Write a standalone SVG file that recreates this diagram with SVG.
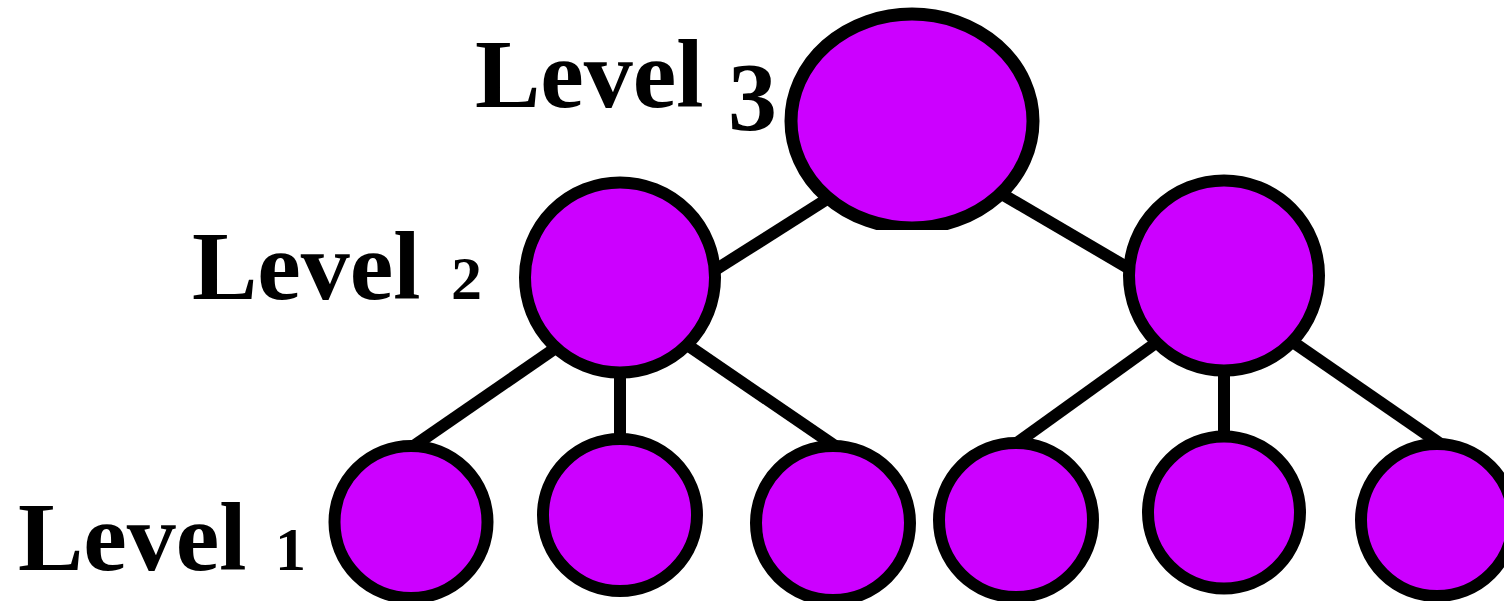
<svg xmlns="http://www.w3.org/2000/svg" width="1504" height="601" viewBox="0 0 1504 601">
  <style>
    .edge { stroke: #000; stroke-width: 12; fill: none; }
    .node { fill: #CC00FF; stroke: #000; stroke-width: 12; }
    .root { fill: #CC00FF; stroke: #000; stroke-width: 13; }
    .label { font-family: "Liberation Serif", "DejaVu Serif", serif; font-weight: bold; font-size: 98px; fill: #000; }
    .fig { font-size: 62px; }
  </style>
  <defs>
    <clipPath id="rootClip">
      <rect x="0" y="0" width="1504" height="230"/>
    </clipPath>
  </defs>
  <rect x="0" y="0" width="1504" height="601" fill="#fff"/>

  <!-- connectors -->
  <g id="connectors">
    <line class="edge" x1="835" y1="194" x2="712" y2="272"/>
    <line class="edge" x1="995" y1="190" x2="1135" y2="272"/>
    <line class="edge" x1="560" y1="345" x2="405" y2="452"/>
    <line class="edge" x1="620" y1="370" x2="620" y2="442"/>
    <line class="edge" x1="680" y1="340" x2="838" y2="448"/>
    <line class="edge" x1="1160" y1="340" x2="1010" y2="448"/>
    <line class="edge" x1="1224" y1="370" x2="1224" y2="440"/>
    <line class="edge" x1="1290" y1="340" x2="1442" y2="445"/>
  </g>

  <!-- level 3 -->
  <g id="node-root">
    <ellipse class="root" cx="912" cy="121" rx="121" ry="107" clip-path="url(#rootClip)"/>
  </g>

  <!-- level 2 -->
  <g id="node-l2-left">
    <circle class="node" cx="620" cy="277.5" r="95"/>
  </g>
  <g id="node-l2-right">
    <circle class="node" cx="1224" cy="275.5" r="95"/>
  </g>

  <!-- level 1 -->
  <g id="node-l1-a">
    <ellipse class="node" cx="411" cy="522" rx="76.5" ry="76"/>
  </g>
  <g id="node-l1-b">
    <ellipse class="node" cx="620" cy="515" rx="77" ry="76"/>
  </g>
  <g id="node-l1-c">
    <ellipse class="node" cx="833" cy="523" rx="77" ry="77"/>
  </g>
  <g id="node-l1-d">
    <ellipse class="node" cx="1016" cy="520" rx="77" ry="77"/>
  </g>
  <g id="node-l1-e">
    <circle class="node" cx="1224" cy="512.5" r="76"/>
  </g>
  <g id="node-l1-f">
    <circle class="node" cx="1437" cy="520" r="76"/>
  </g>

  <!-- level labels -->
  <g id="labels">
    <text class="label" x="475" y="107">Level <tspan dy="23">3</tspan></text>
    <text class="label" x="192" y="299">Level <tspan class="fig" dx="6">2</tspan></text>
    <text class="label" x="18" y="570">Level <tspan class="fig" dx="4">1</tspan></text>
  </g>
</svg>
